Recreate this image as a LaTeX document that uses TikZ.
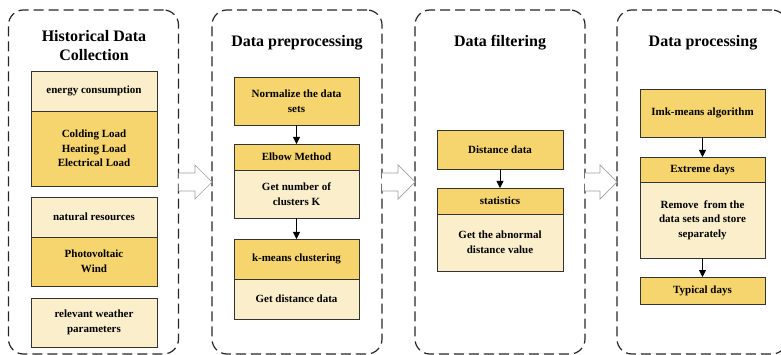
\documentclass[tikz,border=0pt]{standalone}
\usepackage{fontspec}
\setmainfont{Liberation Serif}
\usetikzlibrary{arrows.meta,calc}
\definecolor{hdrY}{HTML}{F6D46E}
\definecolor{lightY}{HTML}{FAEECB}
\definecolor{boxline}{HTML}{333333}
\definecolor{bgray}{HTML}{A0A0A0}
\tikzset{
  panel/.style={draw=black!85, line width=1.2pt, dash pattern=on 10pt off 5pt, rounded corners=15pt,
    minimum width=170pt, minimum height=344pt, inner sep=0pt, outer sep=0pt},
  ttl/.style={font=\fontsize{16}{19}\selectfont\bfseries, align=center, inner sep=0pt},
  bx/.style={draw=boxline, line width=0.8pt, inner sep=0pt, outer sep=0pt, align=center,
    font=\fontsize{11}{14.5}\selectfont\bfseries},
  dk/.style={bx, fill=hdrY},
  lt/.style={bx, fill=lightY},
  flow/.style={draw=black, line width=0.8pt, -{Triangle[width=7pt,length=7pt]}},
  blockarrow/.style={draw=bgray, line width=0.7pt, fill=white}
}
\begin{document}
\begin{tikzpicture}[x=1pt,y=-1pt]
\useasboundingbox (0,0) rectangle (781,355);
\clip (0,0) rectangle (781,355);
% panels
\node[panel] (P1) at (93.5,182) {};
\node[panel, minimum width=170pt] (P2) at (297,182) {};
\node[panel] (P3) at (500,182) {};
\node[panel] (P4) at (702,182) {};
% titles
\node[ttl] (T1) at (94,46) {Historical Data\\Collection};
\node[ttl] (T2) at (297,43) {Data preprocessing};
\node[ttl] (T3) at (500,43) {Data filtering};
\node[ttl] (T4) at (703,43) {Data processing};
% panel 1
\node[lt, minimum width=126pt, minimum height=40pt] (a1) at (94,91) {energy consumption};
\node[dk, minimum width=126pt, minimum height=75pt] (a2) at (94,148.5) {Colding Load\\Heating Load\\Electrical Load};
\node[lt, minimum width=126pt, minimum height=40pt] (a3) at (94,217) {natural resources};
\node[dk, minimum width=126pt, minimum height=49pt] (a4) at (94,261.5) {Photovoltaic\\Wind};
\node[lt, minimum width=126pt, minimum height=49pt] (a5) at (94,322.5) {relevant weather\\parameters};
% panel 2
\node[dk, minimum width=125pt, minimum height=48pt] (b1) at (296.5,101) {Normalize the data\\sets};
\node[dk, minimum width=125pt, minimum height=26pt] (b2) at (296.5,157) {Elbow Method};
\node[lt, minimum width=125pt, minimum height=48pt] (b3) at (296.5,194) {Get number of\\clusters K};
\node[dk, minimum width=125pt, minimum height=40pt] (b4) at (296.5,259) {k-means clustering};
\node[lt, minimum width=125pt, minimum height=40pt] (b5) at (296.5,299) {Get distance data};
% panel 3
\node[dk, minimum width=126pt, minimum height=39pt] (c1) at (500,149.5) {Distance data};
\node[dk, minimum width=126pt, minimum height=26pt] (c2) at (500,201) {statistics};
\node[lt, minimum width=126pt, minimum height=57pt] (c3) at (500,242.5) {Get the abnormal\\distance value};
% panel 4
\node[dk, minimum width=125pt, minimum height=48pt] (d1) at (702.5,113) {Imk-means algorithm};
\node[dk, minimum width=125pt, minimum height=25pt] (d2) at (702.5,169.5) {Extreme days};
\node[lt, minimum width=125pt, minimum height=76pt] (d3) at (702.5,220) {Remove~ from the\\data sets and store\\separately};
\node[dk, minimum width=125pt, minimum height=27pt] (d4) at (702.5,290.5) {Typical days};
% connectors
\draw[flow] (b1.south) -- (b2.north);
\draw[flow] (b3.south) -- (b4.north);
\draw[flow] (c1.south) -- (c2.north);
\draw[flow] (d1.south) -- (d2.north);
\draw[flow] (d3.south) -- (d4.north);
% block arrows between panels
\foreach \s/\t in {P1/P2, P2/P3, P3/P4}{
  \draw[blockarrow] ($(\s.east)+(0,-9)$) -- ($(\t.west)+(-17,-9)$) -- ($(\t.west)+(-17,-17)$)
    -- (\t.west) -- ($(\t.west)+(-17,17)$) -- ($(\t.west)+(-17,9)$) -- ($(\s.east)+(0,9)$);
}
\end{tikzpicture}
\end{document}
